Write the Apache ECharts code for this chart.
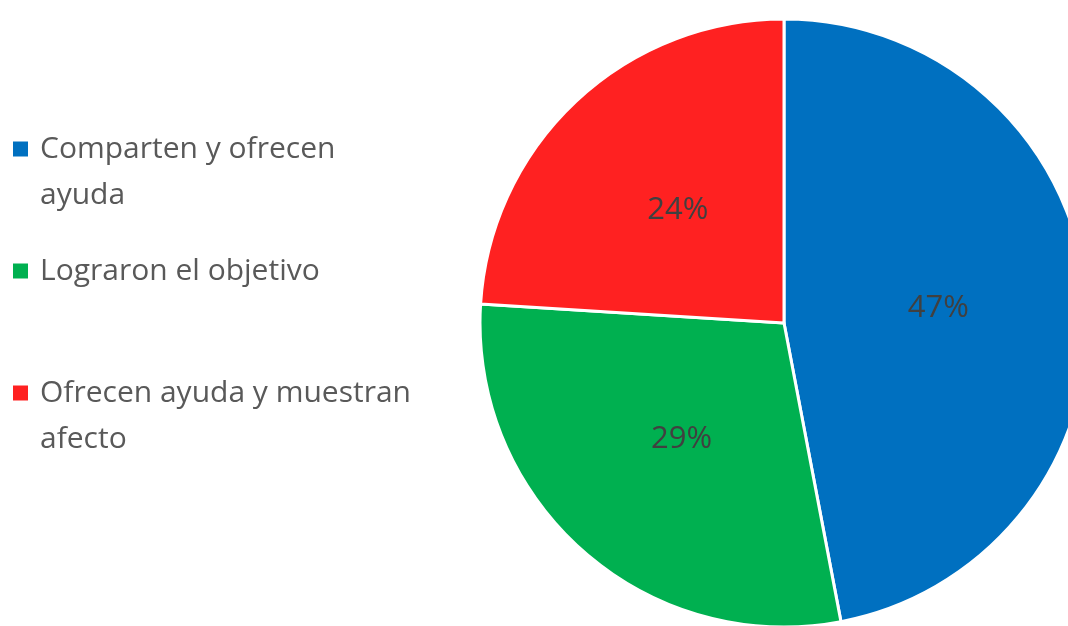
<!DOCTYPE html>
<html>
<head>
<meta charset="utf-8">
<script src="https://cdn.jsdelivr.net/npm/echarts@6/dist/echarts.min.js"></script>
<style>
html, body { margin: 0; padding: 0; background: #fff; }
#main { width: 1068px; height: 626px; }
</style>
</head>
<body>
<div id="main"></div>
<script>
// datos del grafico
var categorias = ['Comparten y ofrecen ayuda', 'Lograron el objetivo', 'Ofrecen ayuda y muestran afecto'];
var etiquetasLeyenda = ['Comparten y ofrecen\nayuda', 'Lograron el objetivo', 'Ofrecen ayuda y muestran\nafecto'];
var valores = [47, 29, 24];
var colores = ['#0070C0', '#00B050', '#FF2121'];

var datos = [];
for (var i = 0; i < categorias.length; i++) {
    datos.push({ name: categorias[i], value: valores[i], itemStyle: { color: colores[i] } });
}

var myChart = echarts.init(document.getElementById('main'));
var option = {
    animation: false,
    legend: {
        orient: 'vertical',
        left: 11,
        top: 80,
        padding: 0,
        itemGap: 30,
        itemWidth: 17,
        itemHeight: 17,
        icon: 'rect',
        data: categorias,
        formatter: function (name) {
            var txt = etiquetasLeyenda[categorias.indexOf(name)];
            // linea en blanco para alinear el icono con la primera linea
            return txt.indexOf('\n') >= 0 ? '\n' + txt : txt;
        },
        textStyle: {
            fontFamily: 'Open Sans',
            fontSize: 30,
            lineHeight: 46,
            color: '#595959',
            padding: [0, 0, 0, 6]
        }
    },
    series: [
        {
            type: 'pie',
            center: [784, 323],
            radius: 304,
            startAngle: 90,
            clockwise: true,
            data: datos,
            itemStyle: { borderColor: '#fff', borderWidth: 3 },
            label: {
                show: true,
                position: 'inside',
                formatter: '{c}%',
                fontFamily: 'Open Sans',
                fontSize: 31,
                color: '#404040'
            },
            labelLine: { show: false },
            emphasis: { disabled: true }
        }
    ]
};
myChart.setOption(option);
</script>
</body>
</html>
